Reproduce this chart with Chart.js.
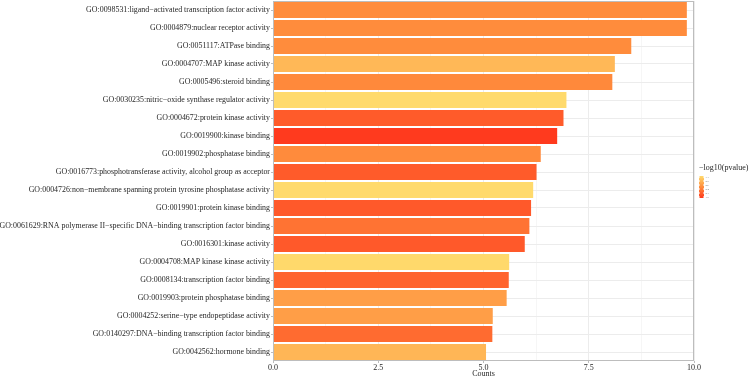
<!DOCTYPE html>
<html>
<head>
<meta charset="utf-8">
<script src="https://cdn.jsdelivr.net/npm/chart.js@4.4.1/dist/chart.umd.min.js"></script>
<style>
  html, body { margin: 0; padding: 0; background: #fff; }
  #wrap { width: 749px; height: 379px; }
</style>
</head>
<body>
<div id="wrap"><canvas id="goChart" width="749" height="379"></canvas></div>
<script>
// --- Data ---
const terms = [
    'GO:0098531:ligand\u2212activated transcription factor activity',
    'GO:0004879:nuclear receptor activity',
    'GO:0051117:ATPase binding',
    'GO:0004707:MAP kinase activity',
    'GO:0005496:steroid binding',
    'GO:0030235:nitric\u2212oxide synthase regulator activity',
    'GO:0004672:protein kinase activity',
    'GO:0019900:kinase binding',
    'GO:0019902:phosphatase binding',
    'GO:0016773:phosphotransferase activity, alcohol group as acceptor',
    'GO:0004726:non\u2212membrane spanning protein tyrosine phosphatase activity',
    'GO:0019901:protein kinase binding',
    'GO:0061629:RNA polymerase II\u2212specific DNA\u2212binding transcription factor binding',
    'GO:0016301:kinase activity',
    'GO:0004708:MAP kinase kinase activity',
    'GO:0008134:transcription factor binding',
    'GO:0019903:protein phosphatase binding',
    'GO:0004252:serine\u2212type endopeptidase activity',
    'GO:0140297:DNA\u2212binding transcription factor binding',
    'GO:0042562:hormone binding'
];
const counts = [9.83, 9.83, 8.51, 8.12, 8.06, 6.97, 6.90, 6.75, 6.36, 6.26,
                6.18, 6.13, 6.09, 5.98, 5.61, 5.60, 5.55, 5.22, 5.21, 5.06];
const negLogP = [2.50, 2.50, 2.50, 2.84, 2.48, 3.10, 2.14, 1.90, 2.49, 2.14,
                 3.10, 2.13, 2.32, 2.13, 3.09, 2.21, 2.64, 2.64, 2.26, 2.82];
const xTicks = [0, 2.5, 5, 7.5, 10];

// --- Colour scale (low = red, high = yellow) ---
const gradStops = [[0, [255, 58, 30]], [0.5, [255, 140, 60]], [1, [255, 218, 108]]];
const pMin = Math.min(...negLogP);
const pMax = Math.max(...negLogP);

function colourFor(v) {
    const t = (v - pMin) / (pMax - pMin);
    for (let i = 1; i < gradStops.length; i++) {
        const [t1, c1] = gradStops[i];
        const [t0, c0] = gradStops[i - 1];
        if (t <= t1) {
            const f = (t - t0) / (t1 - t0);
            const c = c0.map((a, k) => Math.round(a + (c1[k] - a) * f));
            return `rgb(${c[0]}, ${c[1]}, ${c[2]})`;
        }
    }
    return 'rgb(255, 218, 108)';
}

const serif = '"Liberation Serif", "DejaVu Serif", serif';
const textColour = '#262626';

// panel border + colourbar legend
const panelAndLegend = {
    id: 'panelAndLegend',
    afterDraw(chart) {
        const { ctx, chartArea: a } = chart;
        ctx.save();
        ctx.strokeStyle = '#bdbdbd';
        ctx.lineWidth = 1;
        ctx.strokeRect(a.left + 0.5, a.top + 0.5, a.right - a.left - 1, a.bottom - a.top - 1);

        // legend title
        const lx = a.right + 5;
        ctx.fillStyle = textColour;
        ctx.font = `8px ${serif}`;
        ctx.textBaseline = 'middle';
        ctx.fillText('\u2212log10(pvalue)', lx, 168);

        // colourbar
        const top = 176, h = 22, w = 5;
        const g = ctx.createLinearGradient(0, top + h, 0, top);
        gradStops.forEach(([t, c]) => g.addColorStop(t, `rgb(${c[0]}, ${c[1]}, ${c[2]})`));
        ctx.fillStyle = g;
        ctx.fillRect(lx, top, w, h);

        // tiny ticks and labels
        ctx.font = `2.5px ${serif}`;
        ctx.fillStyle = '#555';
        ctx.strokeStyle = '#ffffff';
        for (let i = 0; i < 6; i++) {
            const v = pMin + (pMax - pMin) * i / 5;
            const y = top + h - 1 - (h - 2) * i / 5;
            ctx.beginPath();
            ctx.moveTo(lx, y); ctx.lineTo(lx + 1, y);
            ctx.moveTo(lx + w - 1, y); ctx.lineTo(lx + w, y);
            ctx.stroke();
            ctx.fillText(v.toFixed(1), lx + w + 1.5, y);
        }
        ctx.restore();
    }
};

new Chart(document.getElementById('goChart'), {
    type: 'bar',
    data: {
        labels: terms,
        datasets: [{
            data: counts,
            backgroundColor: negLogP.map(colourFor),
            borderWidth: 0,
            barPercentage: 0.9,
            categoryPercentage: 1.0
        }]
    },
    options: {
        indexAxis: 'y',
        responsive: false,
        animation: false,
        layout: { padding: { top: 1, right: 55, left: 0, bottom: 0 } },
        plugins: {
            legend: { display: false },
            tooltip: { enabled: false }
        },
        scales: {
            x: {
                type: 'linear',
                min: 0,
                max: 10,
                afterBuildTicks: (scale) => {
                    const t = [];
                    for (let v = 0; v <= 10.001; v += 1.25) t.push({ value: v });
                    scale.ticks = t;
                },
                afterFit: (scale) => { scale.height = 18; },
                ticks: {
                    color: textColour,
                    font: { family: serif, size: 8 },
                    padding: 0,
                    maxRotation: 0,
                    autoSkip: false,
                    callback: (v) => xTicks.includes(v) ? v.toFixed(1) : ''
                },
                grid: {
                    color: (c) => xTicks.includes(c.tick && c.tick.value) ? '#ececec' : '#f6f6f6',
                    tickColor: (c) => xTicks.includes(c.tick && c.tick.value) ? '#bdbdbd' : 'rgba(0,0,0,0)',
                    tickLength: 2,
                    lineWidth: 1
                },
                border: { display: false },
                title: {
                    display: true,
                    text: 'Counts',
                    color: textColour,
                    font: { family: serif, size: 8 },
                    padding: 0
                }
            },
            y: {
                afterFit: (scale) => {
                    scale.width = 273;
                    scale.paddingTop = 0;
                    scale.paddingBottom = 0;
                },
                ticks: {
                    color: textColour,
                    font: { family: serif, size: 7.9 },
                    padding: 1,
                    autoSkip: false
                },
                grid: {
                    offset: false,
                    color: '#ececec',
                    tickColor: '#bdbdbd',
                    tickLength: 2
                },
                border: { display: false }
            }
        }
    },
    plugins: [panelAndLegend]
});
</script>
</body>
</html>
